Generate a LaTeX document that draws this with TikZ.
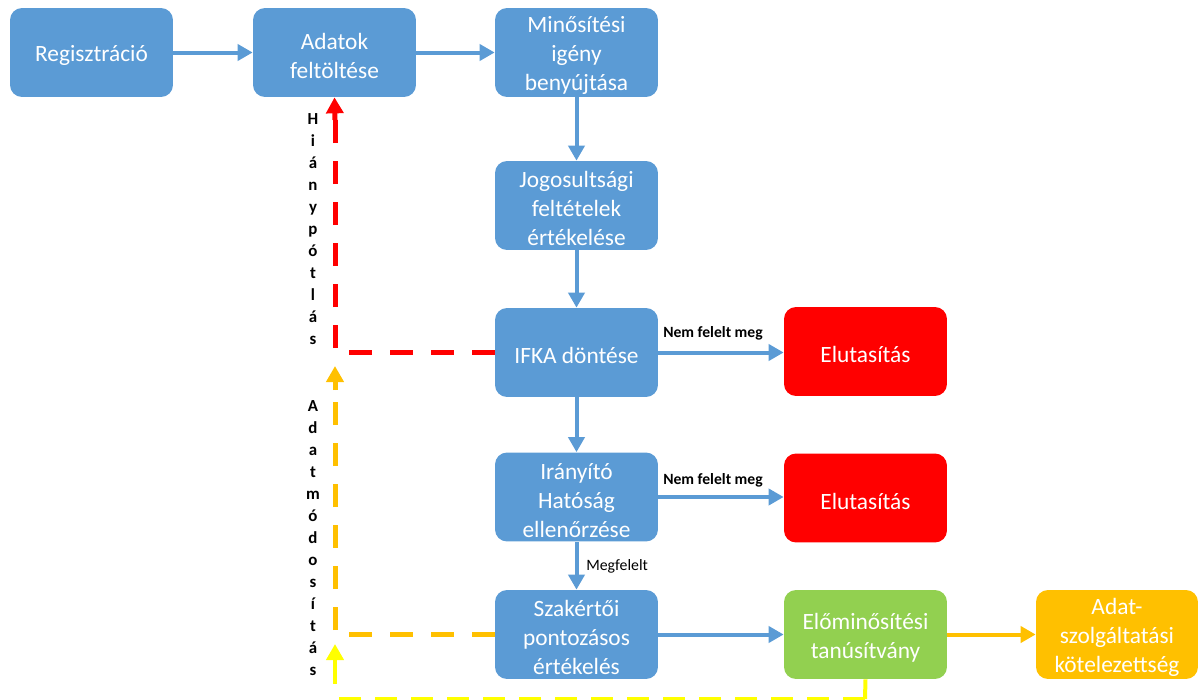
\documentclass[tikz,border=0pt]{standalone}
\usepackage{fontspec}
\setmainfont{Carlito}
\usetikzlibrary{arrows.meta}
\definecolor{bblue}{HTML}{5B9BD5}
\definecolor{rred}{HTML}{FF0000}
\definecolor{ggreen}{HTML}{92D050}
\definecolor{oorange}{HTML}{FFC000}
\definecolor{yyellow}{HTML}{FFFF00}
\newcommand\topstrut{\rule{0pt}{12.9pt}}
\tikzset{
  box/.style={rectangle, rounded corners=0.24cm, minimum width=3.26cm, minimum height=1.78cm,
    fill=bblue, text=white, font=\fontsize{13.3}{16.6}\selectfont, align=center, inner sep=0pt},
  arr/.style={line width=0.08cm, draw=bblue, -{Triangle[length=0.3cm,width=0.32cm]}},
  oarr/.style={arr, draw=oorange, fill=oorange},
  fbk/.style={line width=0.1cm, dash pattern=on 0.46cm off 0.36cm},
  tip/.style={-{Triangle[length=0.32cm,width=0.34cm]}},
  lbl/.style={font=\fontsize{8.9}{10}\selectfont\bfseries, text=black, inner sep=0pt},
  vlbl/.style={font=\fontsize{9.6}{12.5}\selectfont\bfseries, text=black, align=center, inner sep=0pt},
}
\begin{document}
\begin{tikzpicture}[x=0.02cm,y=-0.02cm]
\useasboundingbox (0,0) rectangle (1198,700);
\node[box] (reg) at (91.5,52.5) {\topstrut Regisztráció};
\node[box] (adat) at (334.5,52.5) {\topstrut Adatok\\feltöltése};
\node[box] (min) at (576.5,52.5) {\topstrut Minősítési\\igény\\benyújtása};
\node[box] (jog) at (576.5,205.5) {\topstrut Jogosultsági\\feltételek\\értékelése};
\node[box] (ifka) at (576.5,352.5) {\topstrut IFKA döntése};
\node[box, fill=rred] (el1) at (865.5,351.5) {\topstrut Elutasítás};
\node[box] (ih) at (576.5,497) {\topstrut Irányító\\Hatóság\\ellenőrzése};
\node[box, fill=rred] (el2) at (865.5,498) {\topstrut Elutasítás};
\node[box] (szak) at (576.5,634.5) {\topstrut Szakértői\\pontozásos\\értékelés};
\node[box, fill=ggreen] (elo) at (865.5,634.5) {\topstrut Előminősítési\\tanúsítvány};
\node[box, fill=oorange, minimum width=3.24cm] (kot) at (1117,634.5) {\topstrut Adat-\\szolgáltatási\\kötelezettség};

\draw[arr] (reg) -- (adat);
\draw[arr] (adat) -- (min);
\draw[arr] (min) -- (jog);
\draw[arr] (jog) -- (ifka);
\draw[arr] (ifka) -- (ih);
\draw[arr] (ih) -- (szak);
\draw[arr] (ifka.east) -- (el1.west |- ifka.east);
\draw[arr] (ih.east) -- (el2.west |- ih.east);
\draw[arr] (szak.east) -- (elo.west |- szak.east);
\draw[oarr] (elo.east) -- (kot.west |- elo.east);

\node[lbl] (l1) at (713,333) {Nem felelt meg};
\node[lbl] (l2) at (713,480) {Nem felelt meg};
\node[lbl, font=\fontsize{9}{10}\selectfont, anchor=west] (l3) at (586,566) {Megfelelt};

% red feedback
\coordinate (rc) at (335,352.5);
\draw[fbk, draw=rred] (ifka.west) -- (rc) -- (335,118);
\draw[draw=rred, fill=rred, line width=0.1cm, tip] (335,120) -- (adat.south);

% orange feedback
\coordinate (oc) at (335,634.5);
\draw[fbk, draw=oorange] (szak.west) -- (oc) -- (335,385);
\draw[draw=oorange, fill=oorange, line width=0.1cm, tip] (335,390) -- (335,366);

% yellow feedback
\coordinate (y1) at (865,699);
\coordinate (y2) at (335,699);
\coordinate (y3) at (335,644);
\draw[draw=yyellow, line width=0.08cm] (elo.south) -- (y1);
\draw[draw=yyellow, line width=0.08cm, dash pattern=on 0.44cm off 0.28cm] (y1) -- (y2);
\draw[draw=yyellow, fill=yyellow, line width=0.08cm, tip] (335,684) -- (y3);

\node[vlbl] (v1) at (313,229) {H\\i\\á\\n\\y\\p\\ó\\t\\l\\á\\s};
\node[vlbl] (v2) at (313,538) {A\\d\\a\\t\\m\\ó\\d\\o\\s\\í\\t\\á\\s};
\end{tikzpicture}
\end{document}
